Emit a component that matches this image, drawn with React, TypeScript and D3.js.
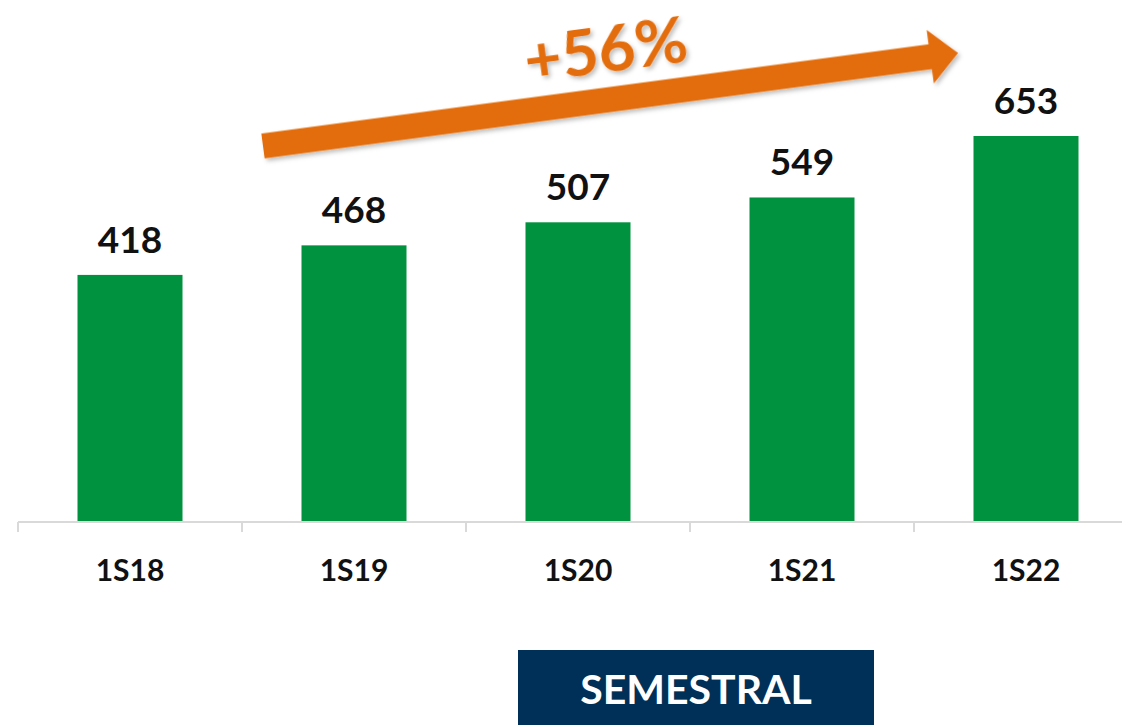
import React from 'react';
import * as d3 from 'd3';

// Semestral values
const categories = ['1S18', '1S19', '1S20', '1S21', '1S22'];
const values = [418, 468, 507, 549, 653];
const growthLabel = '+56%';
const footerLabel = 'SEMESTRAL';

const WIDTH = 1122;
const HEIGHT = 725;
const FONT = 'Lato, "Open Sans", sans-serif';

export default function App() {
  const baseline = 522;
  const step = 224;
  const left = 18;

  const x = d3.scaleBand<string>()
    .domain(categories)
    .range([left, left + step * categories.length])
    .padding(0);

  const y = d3.scaleLinear()
    .domain([0, d3.max(values) as number])
    .range([baseline, 136]);

  const barWidth = 105;

  // tick positions on category boundaries
  const ticks = categories.map((c) => x(c) as number);

  // arrow annotation: shaft from tail to head, in screen coords
  const tail = [263, 146];
  const head = [958, 53];
  const ang = Math.atan2(head[1] - tail[1], head[0] - tail[0]);
  const len = Math.hypot(head[0] - tail[0], head[1] - tail[1]);
  const shaftHalf = 12.5;
  const headLen = 28;
  const headHalf = 27;
  const arrowPath = [
    [0, -shaftHalf],
    [len - headLen, -shaftHalf],
    [len - headLen, -headHalf],
    [len, 0],
    [len - headLen, headHalf],
    [len - headLen, shaftHalf],
    [0, shaftHalf],
  ];
  const deg = (ang * 180) / Math.PI;

  return (
    <svg width={WIDTH} height={HEIGHT} style={{ position: 'absolute', left: 0, top: 0 }}>
      <defs>
        <filter id="shadow" x="-5%" y="-50%" width="110%" height="200%">
          <feDropShadow dx="2" dy="3" stdDeviation="2" floodColor="#000" floodOpacity="0.25" />
        </filter>
      </defs>
      <rect width={WIDTH} height={HEIGHT} fill="#fff" />

      {/* bars */}
      {categories.map((c, i) => {
        const cx = (x(c) as number) + x.bandwidth() / 2;
        return (
          <g key={c}>
            <rect
              x={cx - barWidth / 2}
              y={y(values[i])}
              width={barWidth}
              height={baseline - y(values[i])}
              fill="#00923F"
            />
            <text
              x={cx}
              y={y(values[i]) - 22}
              textAnchor="middle"
              fontFamily={FONT}
              fontWeight="bold"
              fontSize={37}
              fill="#111"
            >
              {values[i]}
            </text>
            <text
              x={cx}
              y={581}
              textAnchor="middle"
              fontFamily={FONT}
              fontWeight="bold"
              fontSize={30}
              fill="#111"
            >
              {c}
            </text>
          </g>
        );
      })}

      {/* axis */}
      <g stroke="#d9d9d9" strokeWidth={2} fill="none">
        <path d={`M${left},${baseline} H${WIDTH}`} />
        {ticks.map((t, i) => (
          <line key={i} x1={t} x2={t} y1={baseline} y2={baseline + 10} />
        ))}
      </g>

      {/* growth arrow */}
      <g transform={`translate(${tail[0]},${tail[1]}) rotate(${deg})`} filter="url(#shadow)">
        <path d={'M' + arrowPath.map((p) => p.join(',')).join('L') + 'Z'} fill="#E36C0A" />
      </g>
      <text
        x={606}
        y={72}
        textAnchor="middle"
        transform={`rotate(${deg} 606 52)`}
        fontFamily={FONT}
        fontWeight="bold"
        fontSize={64}
        fill="#E36C0A"
        filter="url(#shadow)"
      >
        {growthLabel}
      </text>

      {/* footer box */}
      <rect x={518} y={650} width={356} height={75} fill="#003057" />
      <text
        x={696}
        y={704}
        textAnchor="middle"
        fontFamily={FONT}
        fontWeight="bold"
        fontSize={41}
        fill="#fff"
      >
        {footerLabel}
      </text>
    </svg>
  );
}
